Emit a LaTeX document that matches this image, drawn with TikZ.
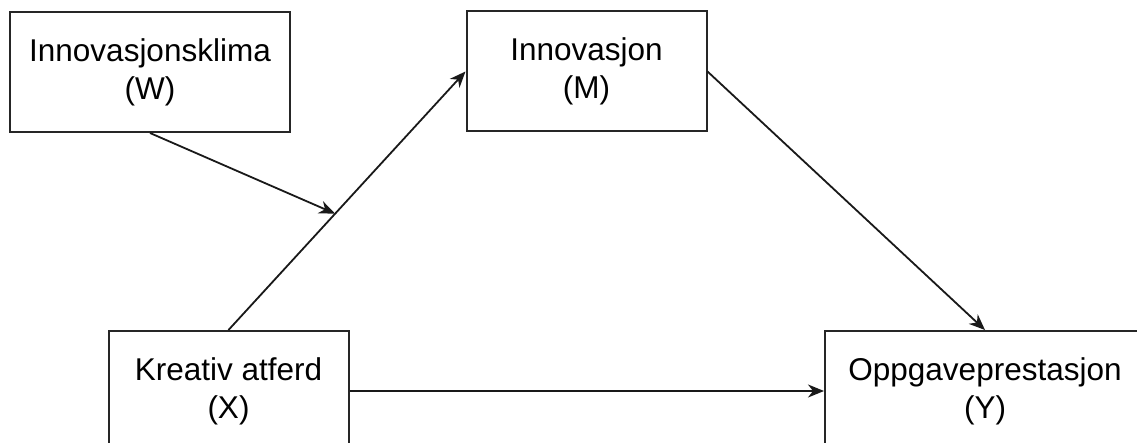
\documentclass[tikz,border=0pt]{standalone}
\usepackage{fontspec}
\setmainfont{Liberation Sans}
\usetikzlibrary{arrows.meta}
\begin{document}
\begin{tikzpicture}[x=1pt,y=-1pt,
  box/.style={draw=black!85, line width=2pt, fill=white,
    minimum width=#1, minimum height=120pt, align=center,
    font=\fontsize{31.5}{38}\selectfont, inner sep=0pt},
  link/.style={draw=black!90, line width=1.8pt,
    -{Stealth[length=16pt,width=13pt,inset=5pt]}}]
\useasboundingbox (0,0) rectangle (1137,443);
\clip (0,0) rectangle (1137,443);
% variables of the mediation model
\node[box=280pt] (W) at (150,72) {Innovasjonsklima\\(W)};
\node[box=240pt] (M) at (586.5,71.5) {Innovasjon\\(M)};
\node[box=240pt] (X) at (228.5,391) {Kreativ atferd\\(X)};
\node[box=320pt] (Y) at (985,391) {Oppgaveprestasjon\\(Y)};
% paths
\draw[link] (X.north) -- (M.west) coordinate[pos=0.45] (mod);
\draw[link] (M.east) -- (Y.north);
\draw[link] (X.east) -- (Y.west);
\draw[link] (W.south) -- (mod);
\end{tikzpicture}
\end{document}
